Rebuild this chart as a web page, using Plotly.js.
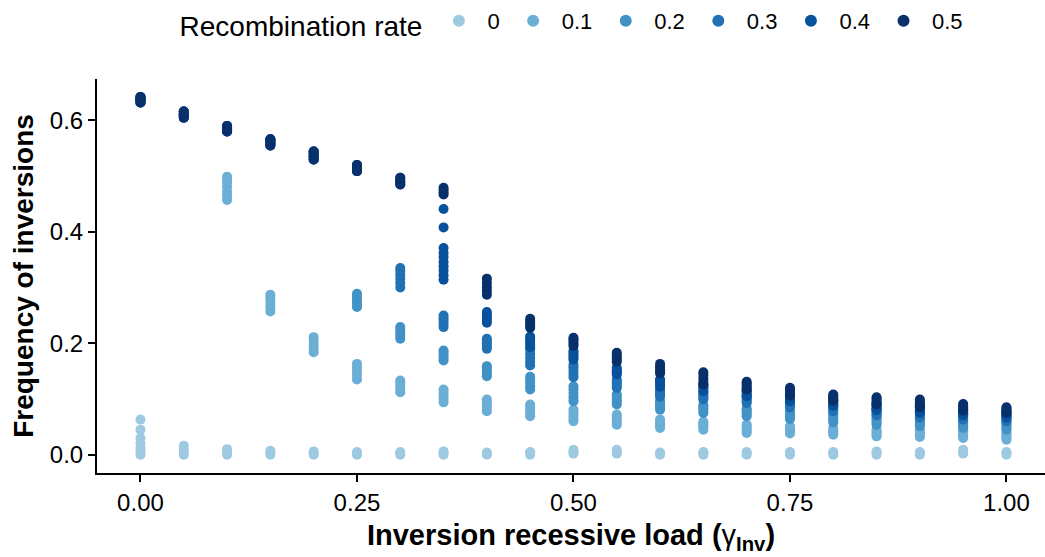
<!DOCTYPE html>
<html>
<head>
<meta charset="utf-8">
<script src="https://cdn.plot.ly/plotly-3.0.1.min.js"></script>
<style>html,body{margin:0;padding:0;background:#fff;}#chart{width:1045px;height:557px;}</style>
</head>
<body>
<div id="chart"></div>
<script>
// Inversion recessive load (x levels)
var loadLevels = [0.00,0.05,0.10,0.15,0.20,0.25,0.30,0.35,0.40,0.45,0.50,0.55,0.60,0.65,0.70,0.75,0.80,0.85,0.90,0.95,1.00];
var rateLabels = ["0","0.1","0.2","0.3","0.4","0.5"];
var rateColors = ["#9ECAE1","#6BAED6","#4292C6","#2171B5","#08519C","#08306B"];

// Frequency of inversions: replicate values per load level, one array per recombination rate
var freqRate0 = [
  [0.0,0.005,0.012,0.02,0.03,0.045,0.063],[0.0,0.004,0.009,0.016],[0.0,0.004,0.01],[0.0,0.004,0.007],
  [0.0,0.003,0.006],[0.0,0.003,0.005],[0.0,0.003,0.005],[0.0,0.003,0.006],[0.0,0.002,0.004],
  [0.0,0.003,0.005],[0.002,0.005,0.009],[0.002,0.005,0.009],[0.0,0.002,0.004],[0.0,0.003,0.005],
  [0.0,0.003,0.005],[0.0,0.003,0.005],[0.0,0.003,0.005],[0.0,0.004,0.006],[0.0,0.003,0.005],
  [0.002,0.005,0.009],[0.0,0.003,0.005]
];
var freqRate01 = [
  [0.632,0.636,0.639,0.642],[0.605,0.609,0.612,0.616],[0.457,0.465,0.472,0.48,0.488,0.494,0.499],
  [0.257,0.264,0.271,0.278,0.283,0.287],[0.184,0.19,0.197,0.204,0.211],[0.135,0.142,0.149,0.156,0.163],
  [0.112,0.118,0.124,0.129,0.133],[0.094,0.1,0.106,0.112,0.117],[0.078,0.084,0.09,0.095,0.099],
  [0.069,0.074,0.08,0.085,0.09],[0.06,0.065,0.07,0.076,0.081],[0.054,0.059,0.063,0.068,0.072],
  [0.048,0.052,0.056,0.06,0.063],[0.045,0.049,0.053,0.056,0.059],[0.039,0.043,0.047,0.051,0.054],
  [0.038,0.041,0.045,0.048,0.051],[0.036,0.039,0.042,0.045,0.048],[0.033,0.036,0.039,0.042,0.045],
  [0.032,0.035,0.038,0.041,0.044],[0.03,0.033,0.036,0.039,0.042],[0.027,0.03,0.033,0.036,0.039]
];
var freqRate02 = [
  [0.632,0.636,0.639,0.642],[0.605,0.609,0.612,0.616],[0.58,0.584,0.587,0.59],
  [0.555,0.559,0.563,0.566],[0.53,0.535,0.54,0.544],[0.265,0.271,0.277,0.283,0.289],
  [0.208,0.213,0.218,0.224,0.229],[0.169,0.174,0.179,0.184,0.187],[0.141,0.146,0.151,0.156,0.159],
  [0.117,0.123,0.129,0.135,0.14],[0.096,0.103,0.11,0.117,0.123],[0.09,0.095,0.099,0.104,0.108],
  [0.081,0.085,0.089,0.093,0.096],[0.075,0.079,0.083,0.086,0.089],[0.069,0.073,0.077,0.08,0.083],
  [0.064,0.068,0.072,0.075,0.078],[0.058,0.062,0.066,0.07,0.073],[0.054,0.058,0.062,0.065,0.068],
  [0.051,0.055,0.058,0.061,0.064],[0.048,0.051,0.054,0.057,0.06],[0.045,0.048,0.051,0.054,0.057]
];
var freqRate03 = [
  [0.632,0.636,0.639,0.642],[0.605,0.609,0.612,0.616],[0.58,0.584,0.587,0.59],
  [0.555,0.559,0.563,0.566],[0.53,0.535,0.54,0.544],[0.509,0.513,0.517,0.52],
  [0.3,0.308,0.316,0.323,0.33,0.335],[0.229,0.235,0.24,0.245,0.25],[0.19,0.195,0.2,0.205,0.208],
  [0.16,0.167,0.174,0.181,0.189],[0.139,0.145,0.151,0.157,0.162],[0.12,0.124,0.128,0.132,0.135],
  [0.104,0.108,0.112,0.115,0.118],[0.099,0.102,0.105,0.108,0.111],[0.093,0.096,0.099,0.102,0.105],
  [0.085,0.088,0.091,0.094,0.097],[0.078,0.081,0.084,0.087,0.09],[0.071,0.074,0.077,0.08,0.083],
  [0.067,0.07,0.073,0.076,0.079],[0.063,0.066,0.069,0.072,0.075],[0.06,0.062,0.065,0.068,0.07]
];
var freqRate04 = [
  [0.632,0.636,0.639,0.642],[0.605,0.609,0.612,0.616],[0.58,0.584,0.587,0.59],
  [0.555,0.559,0.563,0.566],[0.53,0.535,0.54,0.544],[0.509,0.513,0.517,0.52],
  [0.485,0.489,0.493,0.497],[0.314,0.322,0.33,0.338,0.346,0.355,0.362,0.371,0.408,0.441],
  [0.237,0.242,0.247,0.252,0.256],[0.193,0.198,0.203,0.208,0.212],[0.171,0.175,0.179,0.183,0.186],
  [0.144,0.147,0.15,0.153,0.156],[0.122,0.126,0.13,0.133,0.135],[0.114,0.118,0.121,0.124,0.127],
  [0.105,0.108,0.111,0.114,0.117],[0.096,0.099,0.102,0.105,0.108],[0.088,0.091,0.094,0.097,0.099],
  [0.08,0.083,0.086,0.089,0.092],[0.075,0.078,0.081,0.084,0.087],[0.071,0.074,0.077,0.08,0.082],
  [0.067,0.07,0.072,0.075,0.077]
];
var freqRate05 = [
  [0.632,0.636,0.639,0.642],[0.605,0.609,0.612,0.616],[0.58,0.584,0.587,0.59],
  [0.555,0.559,0.563,0.566],[0.53,0.535,0.54,0.544],[0.509,0.513,0.517,0.52],
  [0.485,0.489,0.493,0.497],[0.467,0.471,0.475,0.479],[0.287,0.294,0.301,0.308,0.316],
  [0.228,0.232,0.236,0.24,0.244],[0.195,0.199,0.203,0.207,0.21],[0.167,0.171,0.175,0.179,0.183],
  [0.146,0.15,0.154,0.158,0.163],[0.126,0.131,0.137,0.143,0.148],[0.117,0.121,0.125,0.128,0.131],
  [0.106,0.109,0.113,0.117,0.12],[0.097,0.1,0.103,0.106,0.108],[0.09,0.093,0.097,0.1,0.103],
  [0.085,0.089,0.092,0.096,0.099],[0.079,0.082,0.085,0.088,0.091],[0.075,0.077,0.08,0.083,0.085]
];

var seriesData = [freqRate0, freqRate01, freqRate02, freqRate03, freqRate04, freqRate05];
var FONT = '"Liberation Sans", Arial, Helvetica, sans-serif';

var traces = seriesData.map(function (nested, i) {
  var xs = [], ys = [];
  nested.forEach(function (vals, j) {
    vals.forEach(function (v) { xs.push(loadLevels[j]); ys.push(v); });
  });
  return {
    type: 'scatter', mode: 'markers', name: rateLabels[i],
    x: xs, y: ys,
    marker: { color: rateColors[i], size: 10, line: { width: 0 } },
    hoverinfo: 'x+y+name'
  };
});

var layout = {
  width: 1045, height: 557,
  margin: { l: 97, r: 0, t: 79, b: 84 },
  paper_bgcolor: '#fff', plot_bgcolor: '#fff',
  font: { family: FONT, color: '#000', size: 22 },
  showlegend: true,
  legend: {
    orientation: 'h', x: 0.085, xanchor: 'left',
    yref: 'container', y: 1, yanchor: 'top',
    bgcolor: 'rgba(0,0,0,0)',
    title: { text: 'Recombination rate', side: 'left', font: { size: 28, family: FONT, color: '#000' } },
    font: { size: 22, family: FONT, color: '#000' },
    itemwidth: 47, itemsizing: 'constant', traceorder: 'normal'
  },
  xaxis: {
    range: [-0.0502, 1.0445], tickvals: [0, 0.25, 0.5, 0.75, 1], ticktext: ['0.00','0.25','0.50','0.75','1.00'],
    showgrid: false, zeroline: false, showline: true, linecolor: '#000', linewidth: 2,
    ticks: 'outside', ticklen: 7, tickwidth: 2, tickcolor: '#000',
    tickfont: { size: 24, family: FONT, color: '#000' },
    title: { text: '<b>Inversion recessive load (</b>γ<b><sub>Inv</sub>)</b>', font: { size: 29, family: FONT, color: '#000' }, standoff: 10 }
  },
  yaxis: {
    range: [-0.0328, 0.6743], tickvals: [0, 0.2, 0.4, 0.6], ticktext: ['0.0','0.2','0.4','0.6'],
    showgrid: false, zeroline: false, showline: true, linecolor: '#000', linewidth: 2,
    ticks: 'outside', ticklen: 7, tickwidth: 2, tickcolor: '#000',
    tickfont: { size: 24, family: FONT, color: '#000' },
    title: { text: '<b>Frequency of inversions</b>', font: { size: 28, family: FONT, color: '#000' }, standoff: 8 }
  }
};

Plotly.newPlot('chart', traces, layout, { displayModeBar: false, staticPlot: true });
</script>
</body>
</html>
